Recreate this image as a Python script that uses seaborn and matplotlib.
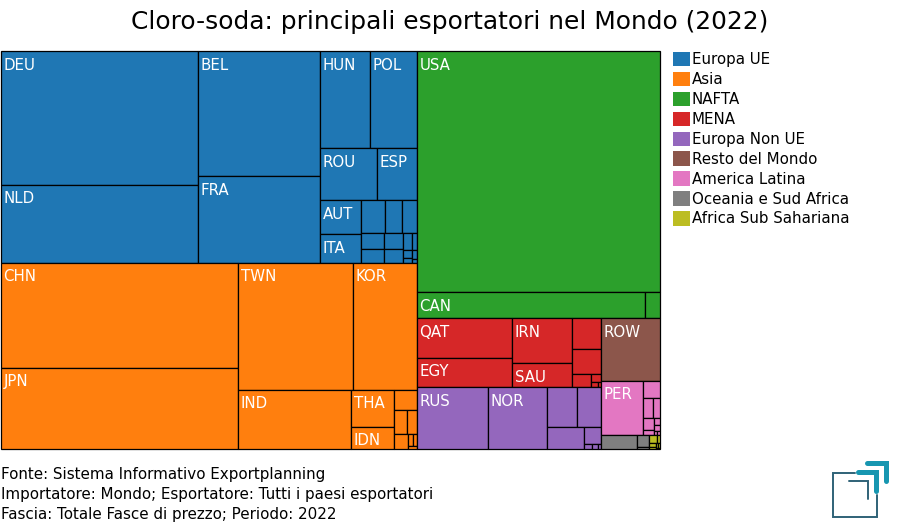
import matplotlib
matplotlib.use("Agg")
import matplotlib.pyplot as plt
from matplotlib.lines import Line2D
from matplotlib.patches import Patch
import seaborn as sns

# export values (arbitrary units, proportional to cell area)
groups = ['Europa UE', 'Asia', 'NAFTA', 'MENA', 'Europa Non UE', 'Resto del Mondo',
          'America Latina', 'Oceania e Sud Africa', 'Africa Sub Sahariana']

europa_ue_labels = ['DEU', 'NLD', 'BEL', 'FRA', 'HUN', 'POL', 'ROU', 'ESP', 'AUT', 'ITA']
europa_ue = [26400, 15400, 15250, 10600, 4850, 4560, 2960, 2080, 1394, 1189,
             792, 561, 495, 345, 322, 300, 266, 153, 85, 70, 50, 40, 20]

asia_labels = ['CHN', 'JPN', 'TWN', 'KOR', 'IND', 'THA', 'IDN']
asia = [24885, 19197, 14605, 8128, 6667, 1591, 946, 460, 312, 240, 210, 60, 45, 30]

nafta_labels = ['USA', 'CAN']
nafta = [58563, 5928, 390]

mena_labels = ['QAT', 'EGY', 'IRN', 'SAU']
mena = [3760, 2790, 2700, 1440, 899, 725, 234, 88, 35, 15]

europa_non_ue_labels = ['RUS', 'NOR']
europa_non_ue = [4402, 3658, 1200, 960, 814, 289, 40, 30, 15]

resto_labels = ['ROW']
resto = [3658]

america_labels = ['PER']
america = [2255, 306, 209, 133, 130, 50, 44, 40, 15, 10]

oceania_labels = []
oceania = [504, 150, 20]

africa_labels = []
africa = [64, 25, 24, 15, 10, 8, 5]

all_values = [europa_ue, asia, nafta, mena, europa_non_ue, resto, america, oceania, africa]
all_labels = [europa_ue_labels, asia_labels, nafta_labels, mena_labels, europa_non_ue_labels,
              resto_labels, america_labels, oceania_labels, africa_labels]

footer = ['Fonte: Sistema Informativo Exportplanning',
          'Importatore: Mondo; Esportatore: Tutti i paesi esportatori',
          'Fascia: Totale Fasce di prezzo; Periodo: 2022']

PHI = (1 + 5 ** 0.5) / 2


def squarify(values, x, y, dx, dy):
    """Squarified treemap with golden ratio target, returns one (x, y, dx, dy) per value."""
    rects = []
    remaining = float(sum(values))
    i0 = 0
    n = len(values)
    while i0 < n:
        i1 = i0 + 1
        total = lo = hi = values[i0]
        alpha = max(dy / dx, dx / dy) / (remaining * PHI)
        beta = total * total * alpha
        best = max(hi / beta, beta / lo)
        while i1 < n:
            v = values[i1]
            beta = (total + v) ** 2 * alpha
            ratio = max(max(hi, v) / beta, beta / min(lo, v))
            if ratio > best:
                break
            total += v
            lo, hi = min(lo, v), max(hi, v)
            best = ratio
            i1 += 1
        row = values[i0:i1]
        share = total / remaining
        pos = 0
        if dx < dy:
            thick = dy * share
            for v in row:
                rects.append((x + pos, y, dx * v / total, thick))
                pos += dx * v / total
            y += thick
            dy -= thick
        else:
            thick = dx * share
            for v in row:
                rects.append((x, y + pos, thick, dy * v / total))
                pos += dy * v / total
            x += thick
            dx -= thick
        remaining -= total
        i0 = i1
    return rects


sns.set_style("white")
palette = sns.color_palette("tab10", 9)

W, H = 659, 398
fig = plt.figure(figsize=(9, 5.3), dpi=100)
ax = fig.add_axes([1 / 900, (530 - 449) / 530, W / 900, H / 530])
ax.set_xlim(0, W)
ax.set_ylim(H, 0)
ax.axis('off')

totals = [sum(v) for v in all_values]
for box, values, labels, color in zip(squarify(totals, 0, 0, W, H), all_values, all_labels, palette):
    cells = squarify(values, *box)
    for i, (x, y, dx, dy) in enumerate(cells):
        ax.bar(x, dy, width=dx, bottom=y, align='edge', color=color,
               edgecolor='black', linewidth=0.9, clip_on=False)
        if i < len(labels):
            ax.text(x + 2.5, y + 14, labels[i], color='white', fontsize=10.85, va='center', ha='left')

fig.text(450 / 900, 1 - 22 / 530, 'Cloro-soda: principali esportatori nel Mondo (2022)',
         fontsize=17.9, ha='center', va='center', color='black')

handles = [Patch(facecolor=c, edgecolor='none') for c in palette]
fig.legend(handles, groups, loc='upper left', bbox_to_anchor=(670 / 900, 1 - 49 / 530), frameon=False,
           fontsize=10.85, handlelength=1.1, handleheight=1.1, handletextpad=0.14,
           labelspacing=0.3, borderpad=0.2, borderaxespad=0, labelcolor='black')

for i, line in enumerate(footer):
    fig.text(1 / 900, 1 - (475 + i * 20) / 530, line, fontsize=10.9, va='center', ha='left', color='black')

# logo, top right L shapes and open square
logo = fig.add_axes([0, 0, 1, 1], facecolor='none')
logo.set_xlim(0, 900)
logo.set_ylim(530, 0)
logo.axis('off')
dark, teal = '#2f6277', '#1796b0'
logo.add_line(Line2D([855, 832.5, 832.5, 876.5, 876.5], [472.5, 472.5, 516.5, 516.5, 495], color=dark, lw=1.4, solid_joinstyle='miter'))
logo.add_line(Line2D([849, 867.5, 867.5], [480.5, 480.5, 499], color=dark, lw=1.4, solid_joinstyle='miter'))
logo.add_line(Line2D([858, 875.5, 875.5], [472, 472, 491], color=teal, lw=3.6, solid_joinstyle='miter'))
logo.add_line(Line2D([867, 885.5, 885.5], [462.5, 462.5, 481], color=teal, lw=3.6, solid_joinstyle='miter'))

fig.savefig('out.png', dpi=100)
